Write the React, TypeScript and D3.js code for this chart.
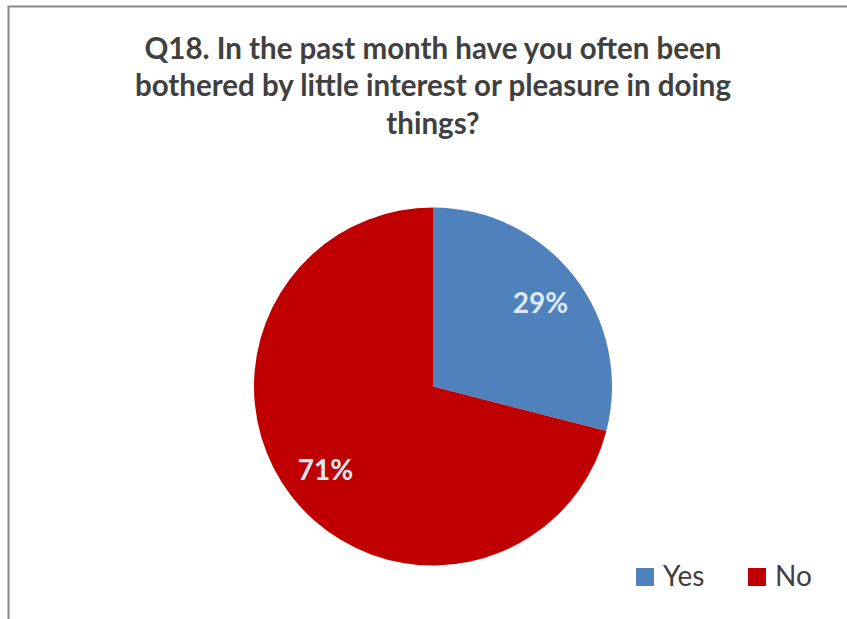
import React from "react";
import * as d3 from "d3";

const categories = ["Yes", "No"];
const values = [29, 71];
const colors = ["#4f81bd", "#c00000"];
const titleLines = [
  "Q18. In the past month have you often been",
  "bothered by little interest or pleasure in doing",
  "things?",
];

const W = 847;
const H = 619;
const FONT = "Lato, 'Open Sans', sans-serif";

const App: React.FC = () => {
  const cx = 433;
  const cy = 386.5;
  const r = 179;

  const pie = d3
    .pie<number>()
    .sort(null)
    .value((d) => d);
  const arcs = pie(values);
  const arc = d3.arc<d3.PieArcDatum<number>>().innerRadius(0).outerRadius(r);
  const labelArc = d3
    .arc<d3.PieArcDatum<number>>()
    .innerRadius(r * 0.76)
    .outerRadius(r * 0.76);

  const total = d3.sum(values);

  return (
    <svg
      width={W}
      height={H}
      style={{ position: "absolute", left: 0, top: 0, background: "#fff" }}
    >
      <rect x={8.5} y={6.5} width={W} height={H} fill="#fff" stroke="#878787" strokeWidth={2} />
      {titleLines.map((t, i) => (
        <text
          key={i}
          x={433}
          y={58.5 + i * 37.5}
          textAnchor="middle"
          fontFamily={FONT}
          fontWeight="bold"
          fontSize={29.5}
          fill="#404040"
        >
          {t}
        </text>
      ))}
      <g transform={`translate(${cx},${cy})`}>
        {arcs.map((a, i) => (
          <path key={categories[i]} d={arc(a) || ""} fill={colors[i]} />
        ))}
        {arcs.map((a, i) => {
          const [lx, ly] = labelArc.centroid(a);
          return (
            <text
              key={"l" + i}
              x={lx}
              y={ly}
              dy="0.36em"
              textAnchor="middle"
              fontFamily={FONT}
              fontWeight="bold"
              fontSize={28}
              fill="#dde9f4"
            >
              {Math.round((values[i] / total) * 100)}%
            </text>
          );
        })}
      </g>
      {categories.map((c, i) => (
        <g key={c} transform={`translate(${636 + i * 112},568)`}>
          <rect width={18} height={18} fill={colors[i]} />
          <text x={27} y={18} fontFamily={FONT} fontSize={28} fill="#404040">
            {c}
          </text>
        </g>
      ))}
    </svg>
  );
};

export default App;
